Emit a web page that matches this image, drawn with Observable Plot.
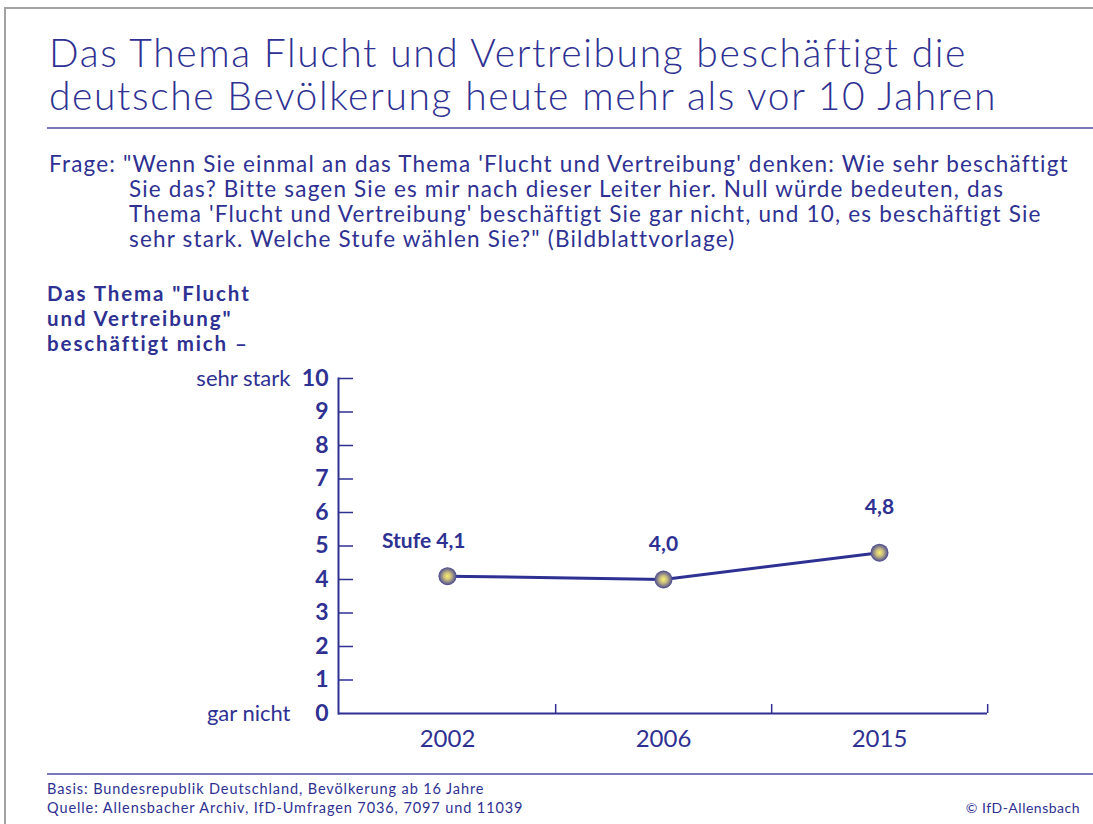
<!DOCTYPE html>
<html>
<head>
<meta charset="utf-8">
<script src="https://cdn.jsdelivr.net/npm/d3@7"></script>
<script src="https://cdn.jsdelivr.net/npm/@observablehq/plot@0.6"></script>
<style>
  html, body { margin: 0; padding: 0; background: #fff; }
  #page { position: relative; width: 1093px; height: 824px; overflow: hidden; font-family: Lato, "Open Sans", sans-serif; color: #2e3192; }
  .abs { position: absolute; white-space: nowrap; }
  #frame { left: 4px; top: 7px; width: 1100px; height: 830px; border-top: 2px solid #a3a3a3; border-left: 2px solid #a3a3a3; }
  .title { left: 49px; font-size: 39px; line-height: 39px; font-weight: 300; letter-spacing: 1.6px; }
  .rule { left: 47px; right: 0; height: 2px; background: #7878bb; }
  .q { font-size: 22.5px; line-height: 25px; letter-spacing: 1.18px; }
  .yl { left: 47px; font-size: 20.5px; line-height: 25px; font-weight: 700; letter-spacing: 1.9px; }
  .ft { left: 47px; font-size: 14.5px; line-height: 19px; letter-spacing: 0.9px; }
  #copy { right: 13px; top: 798px; font-size: 14px; line-height: 19px; letter-spacing: 0.5px; }
  #chart { left: 0; top: 360px; }
</style>
</head>
<body>
<div id="page">
  <div id="frame" class="abs"></div>
  <div class="abs title" style="top:33px">Das Thema Flucht und Vertreibung beschäftigt die</div>
  <div class="abs title" style="top:76px">deutsche Bevölkerung heute mehr als vor 10 Jahren</div>
  <div class="abs rule" style="top:127px"></div>
  <div class="abs q" style="left:49px; top:151px">Frage: "Wenn Sie einmal an das Thema 'Flucht und Vertreibung' denken: Wie sehr beschäftigt</div>
  <div class="abs q" style="left:129px; top:176px">Sie das? Bitte sagen Sie es mir nach dieser Leiter hier. Null würde bedeuten, das</div>
  <div class="abs q" style="left:129px; top:201px">Thema 'Flucht und Vertreibung' beschäftigt Sie gar nicht, und 10, es beschäftigt Sie</div>
  <div class="abs q" style="left:129px; top:226px">sehr stark. Welche Stufe wählen Sie?" (Bildblattvorlage)</div>
  <div class="abs yl" style="top:281px">Das Thema "Flucht</div>
  <div class="abs yl" style="top:306px">und Vertreibung"</div>
  <div class="abs yl" style="top:331px">beschäftigt mich –</div>
  <div id="chart" class="abs"></div>
  <div class="abs rule" style="top:773px"></div>
  <div class="abs ft" style="top:779px">Basis: Bundesrepublik Deutschland, Bevölkerung ab 16 Jahre</div>
  <div class="abs ft" style="top:798px">Quelle: Allensbacher Archiv, IfD-Umfragen 7036, 7097 und 11039</div>
  <div id="copy" class="abs">© IfD-Allensbach</div>
</div>
<script>
// ---- data ----
const years = ["2002", "2006", "2015"];
const values = [4.1, 4.0, 4.8];
const valueLabels = ["Stufe 4,1", "4,0", "4,8"];
const yTicks = [0, 1, 2, 3, 4, 5, 6, 7, 8, 9, 10];
const scaleEndLabels = ["gar nicht", "sehr stark"];
const scaleEndValues = [0, 10];

const data = years.map((y, i) => ({year: y, value: values[i], label: valueLabels[i]}));
const ends = scaleEndValues.map((v, i) => ({value: v, text: scaleEndLabels[i]}));

const W = 1093, H = 400;
const mL = 338, mR = 106, mT = 18, mB = 47;
const frameW = W - mL - mR, frameH = H - mT - mB;
const bw = frameW / years.length;
const blue = "#2e3192";
const labelStyle = {x: "year", y: "value", text: "label", fontSize: 21, fontWeight: "bold", letterSpacing: 1.6};

const plot = Plot.plot({
  width: W, height: H,
  marginLeft: mL, marginRight: mR, marginTop: mT, marginBottom: mB,
  style: {color: blue, fontFamily: "Lato, 'Open Sans', sans-serif", background: "transparent"},
  x: {type: "band", domain: years, padding: 0},
  y: {domain: [0, 10]},
  marks: [
    Plot.axisY(yTicks, {tickSize: 0, tickPadding: 10, fontSize: 23, fontWeight: "bold", label: null}),
    Plot.axisX({tickSize: 0, tickPadding: 16, fontSize: 24, label: null}),
    Plot.text(ends, {y: "value", text: "text", frameAnchor: "left", dx: -48, textAnchor: "end", fontSize: 22, letterSpacing: 0.8}),
    Plot.tickY(yTicks.slice(1), {y: d => d, insetRight: frameW - 15, stroke: blue, strokeWidth: 1.5}),
    Plot.tickX(years, {x: d => d, dx: bw / 2, insetTop: frameH - 9, stroke: blue, strokeWidth: 1.5}),
    Plot.ruleY([0], {stroke: blue, strokeWidth: 2}),
    Plot.frame({anchor: "left", stroke: blue, strokeWidth: 2}),
    Plot.line(data, {x: "year", y: "value", stroke: blue, strokeWidth: 3}),
    Plot.dot(data, {x: "year", y: "value", r: 9, fill: "url(#ballGrad)", stroke: "none"}),
    Plot.text(data.slice(0, 1), {...labelStyle, dy: -35, dx: 18, textAnchor: "end"}),
    Plot.text(data.slice(1, 2), {...labelStyle, dy: -35}),
    Plot.text(data.slice(2, 3), {...labelStyle, dy: -45})
  ]
});

const svg = d3.select(plot);
const defs = svg.insert("defs", ":first-child");
const g = defs.append("radialGradient").attr("id", "ballGrad").attr("cx", "50%").attr("cy", "50%").attr("r", "50%");
g.append("stop").attr("offset", "0%").attr("stop-color", "#fbf06c");
g.append("stop").attr("offset", "40%").attr("stop-color", "#c9bd80");
g.append("stop").attr("offset", "100%").attr("stop-color", "#464690");

document.getElementById("chart").appendChild(plot);
</script>
</body>
</html>
